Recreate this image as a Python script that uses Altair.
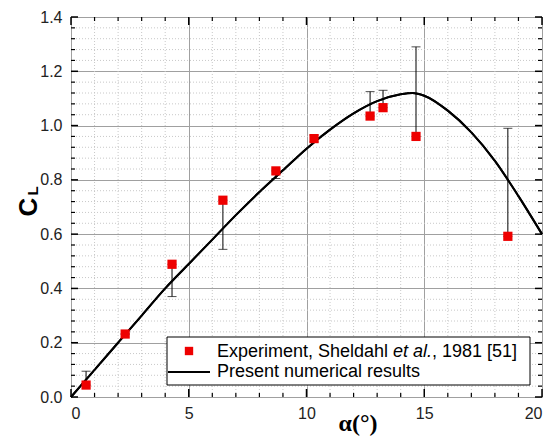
import altair as alt
import pandas as pd

# ---- data ----
exp_alpha = [0.64, 2.3, 4.29, 6.45, 8.7, 10.32, 12.7, 13.25, 14.65, 18.55]
exp_cl    = [0.044, 0.232, 0.489, 0.725, 0.833, 0.952, 1.035, 1.066, 0.960, 0.592]
err_lo    = [0.044, 0.232, 0.370, 0.544, 0.805, 0.940, 1.035, 1.066, 0.960, 0.592]
err_hi    = [0.095, 0.232, 0.489, 0.725, 0.833, 0.965, 1.125, 1.130, 1.290, 0.990]

num_alpha = [0, 1, 2, 3, 4, 5, 6, 7, 8, 9, 10, 11, 12, 13, 14, 14.5, 15, 16, 17, 18, 19, 20]
num_cl    = [0, 0.10, 0.20, 0.30, 0.40, 0.49, 0.58, 0.67, 0.755, 0.835, 0.915, 0.985, 1.045,
             1.09, 1.115, 1.12, 1.11, 1.055, 0.975, 0.87, 0.74, 0.60]

x_major = [0, 5, 10, 15, 20]
x_minor = [v for v in range(1, 20) if v % 5 != 0]
y_major = [0.0, 0.2, 0.4, 0.6, 0.8, 1.0, 1.2, 1.4]
y_minor = [round(i * 0.04, 2) for i in range(1, 35) if i % 5 != 0]

legend_labels = ["Experiment, Sheldahl ", "et al.", ", 1981 [51]", "Present numerical results"]

W, H = 471, 380
FONT = "Liberation Sans"

xs = alt.Scale(domain=[0, 20], nice=False, zero=False)
ys = alt.Scale(domain=[0, 1.4], nice=False, zero=False)
xax = alt.Axis(values=x_major, title=None, ticks=False, domain=False,
               grid=True, gridColor="#a0a0a0", gridWidth=1,
               labelFont=FONT, labelFontSize=16, labelColor="#222",
               labelPadding=8, format="d")
yax = alt.Axis(values=y_major, title=None, ticks=False, domain=False,
               grid=True, gridColor="#a0a0a0", gridWidth=1,
               labelFont=FONT, labelFontSize=16, labelColor="#222",
               labelPadding=9, format=".1f")

def X(f):
    return alt.X(f, scale=xs, axis=xax, title=None)

def Y(f):
    return alt.Y(f, scale=ys, axis=yax, title=None)

exp_df = pd.DataFrame({"a": exp_alpha, "cl": exp_cl, "lo": err_lo, "hi": err_hi})
num_df = pd.DataFrame({"a": num_alpha, "cl": num_cl})
xmin_df = pd.DataFrame({"v": x_minor})
ymin_df = pd.DataFrame({"v": y_minor})
xmaj_df = pd.DataFrame({"v": x_major})
ymaj_df = pd.DataFrame({"v": y_major})

curve = alt.Chart(num_df).mark_line(color="black", strokeWidth=2, interpolate="monotone").encode(
    x=X("a:Q"), y=Y("cl:Q"))

minor_x_grid = alt.Chart(xmin_df).mark_rule(color="#c8c8c8", strokeWidth=1, strokeDash=[1, 2]).encode(
    x=X("v:Q"))
minor_y_grid = alt.Chart(ymin_df).mark_rule(color="#c8c8c8", strokeWidth=1, strokeDash=[1, 2]).encode(
    y=Y("v:Q"))

def xticks(df, length, width):
    bot = alt.Chart(df).mark_rule(color="black", strokeWidth=width).encode(
        x=X("v:Q"), y=alt.value(H), y2=alt.value(H - length))
    top = alt.Chart(df).mark_rule(color="black", strokeWidth=width).encode(
        x=X("v:Q"), y=alt.value(0), y2=alt.value(length))
    return [bot, top]

def yticks(df, length, width):
    left = alt.Chart(df).mark_rule(color="black", strokeWidth=width).encode(
        y=Y("v:Q"), x=alt.value(0), x2=alt.value(length))
    right = alt.Chart(df).mark_rule(color="black", strokeWidth=width).encode(
        y=Y("v:Q"), x=alt.value(W), x2=alt.value(W - length))
    return [left, right]

tick_layers = xticks(xmaj_df, 8, 1.5) + xticks(xmin_df, 4, 1.2) + yticks(ymaj_df, 7, 1.5) + yticks(ymin_df, 4, 1.2)

err_rule = alt.Chart(exp_df).mark_rule(color="black", strokeWidth=1).encode(
    x=X("a:Q"), y=Y("lo:Q"), y2="hi:Q")
cap_lo = alt.Chart(exp_df).mark_tick(color="black", orient="horizontal", size=9, thickness=1).encode(
    x=X("a:Q"), y=Y("lo:Q"))
cap_hi = alt.Chart(exp_df).mark_tick(color="black", orient="horizontal", size=9, thickness=1).encode(
    x=X("a:Q"), y=Y("hi:Q"))
points = alt.Chart(exp_df).mark_square(color="#ee0000", size=85, opacity=1).encode(
    x=X("a:Q"), y=Y("cl:Q"))

one = pd.DataFrame({"k": [0]})
lx0, lx1, ly0, ly1 = 96, 459, 320, 368
leg_box = alt.Chart(one).mark_rect(fill="white", stroke="black", strokeWidth=1).encode(
    x=alt.value(lx0), x2=alt.value(lx1), y=alt.value(ly0), y2=alt.value(ly1))
leg_sq = alt.Chart(one).mark_square(color="#ee0000", size=70, opacity=1).encode(
    x=alt.value(118), y=alt.value(334))
leg_line = alt.Chart(one).mark_rule(color="black", strokeWidth=2).encode(
    x=alt.value(97), x2=alt.value(139), y=alt.value(355))

def txt(s, x, y, size=18, style="normal", weight="normal", font=FONT, angle=0, align="left", color="black"):
    return alt.Chart(pd.DataFrame({"t": [s]})).mark_text(
        align=align, baseline="alphabetic", fontSize=size, fontStyle=style, fontWeight=weight,
        font=font, angle=angle, color=color).encode(
        text="t:N", x=alt.value(x), y=alt.value(y))

leg_t1 = txt(legend_labels[0], 146, 340)
leg_t2 = txt(legend_labels[1], 322, 340, style="italic")
leg_t3 = txt(legend_labels[2], 361, 340)
leg_t4 = txt(legend_labels[3], 146, 360)

x_title = txt("α(°)", 287, 414, size=24, weight="bold", font="Liberation Serif", align="center")
y_title_c = txt("C", -34, 190, size=26, weight="bold", angle=270, align="center")
y_title_l = txt("L", -33, 174, size=15, weight="bold", angle=270, align="center")

chart = alt.layer(
    curve, minor_x_grid, minor_y_grid, *tick_layers,
    err_rule, cap_lo, cap_hi, curve, points,
    leg_box, leg_sq, leg_line, leg_t1, leg_t2, leg_t3, leg_t4,
    x_title, y_title_c, y_title_l,
).properties(
    width=W, height=H,
    autosize=alt.AutoSizeParams(type="none"),
    padding={"left": 63, "top": 9, "right": 1, "bottom": 46},
).configure_view(stroke="black", strokeWidth=1.5).configure(background="white")

chart.save("out.html", embed_options={"renderer": "svg", "actions": False})
